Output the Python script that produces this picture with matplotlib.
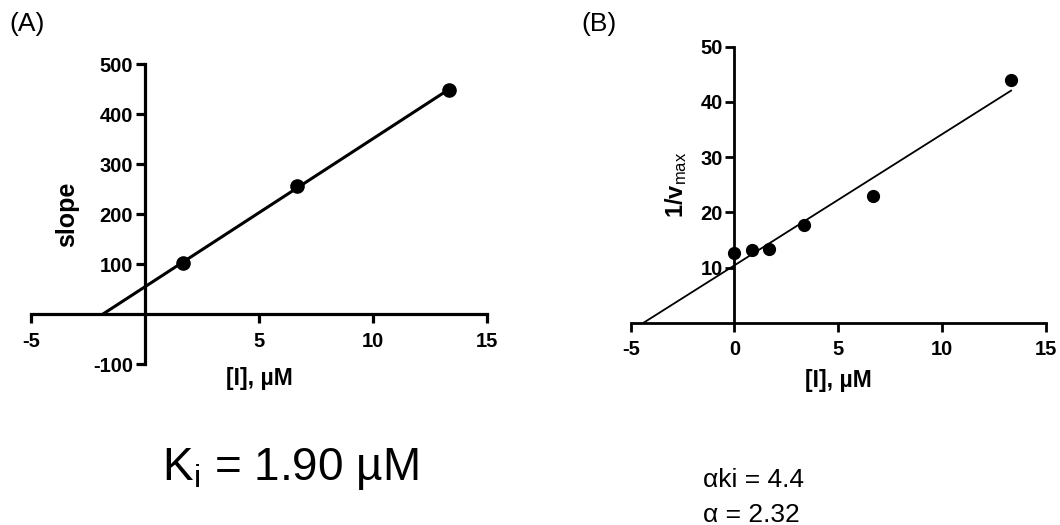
import matplotlib
matplotlib.use("Agg")
import matplotlib.pyplot as plt
import numpy as np

plt.rcParams["font.family"] = ["Liberation Sans", "DejaVu Sans"]
plt.rcParams["mathtext.fontset"] = "custom"
plt.rcParams["mathtext.rm"] = "Liberation Sans"
plt.rcParams["mathtext.it"] = "Liberation Sans:italic"
plt.rcParams["mathtext.bf"] = "Liberation Sans:bold"
plt.rcParams["axes.unicode_minus"] = False

# replot of slopes (A) and 1/vmax (B) against inhibitor concentration
inhib_a = [1.67, 6.67, 13.33]
slope_a = [102, 257, 448]

inhib_b = [0.0, 0.83, 1.67, 3.33, 6.67, 13.33]
inv_vmax_b = [12.7, 13.1, 13.3, 17.7, 23.0, 43.9]

xticks_a = [-5, 5, 10, 15]
yticks_a = [-100, 100, 200, 300, 400, 500]
xticks_b = [-5, 0, 5, 10, 15]
yticks_b = [10, 20, 30, 40, 50]

ki_text = "K$_\\mathregular{i}$ = 1.90 µM"
alpha_lines = ["αki = 4.4", "α = 2.32"]


def style_axes(ax, xlim, ylim, xticks, yticks, lw):
    ax.set_xlim(*xlim)
    ax.set_ylim(*ylim)
    for side in ("top", "right"):
        ax.spines[side].set_visible(False)
    ax.spines["left"].set_position(("data", 0))
    ax.spines["bottom"].set_position(("data", 0))
    ax.spines["left"].set_bounds(ylim[0], ylim[1])
    ax.spines["bottom"].set_bounds(xlim[0], xlim[1])
    for side in ("left", "bottom"):
        ax.spines[side].set_linewidth(lw)
    ax.set_xticks(xticks)
    ax.set_yticks(yticks)
    ax.tick_params(direction="out", length=6.5, width=lw, labelsize=14.5, pad=2)
    ax.tick_params(axis="x", pad=6)
    for lab in ax.get_xticklabels() + ax.get_yticklabels():
        lab.set_fontweight("bold")


def fit_line(x, y):
    m, b = np.polyfit(x, y, 1)
    xs = np.array([-b / m, max(x)])
    return xs, m * xs + b


fig = plt.figure(figsize=(10.6, 5.25), dpi=100)

# panel A
ax1 = fig.add_axes([0.0292, 0.3061, 0.4302, 0.5714])
style_axes(ax1, (-5, 15), (-100, 500), xticks_a, yticks_a, 2.3)
fx, fy = fit_line(inhib_a, slope_a)
ax1.plot(fx, fy, color="black", linewidth=2.2, solid_capstyle="butt")
ax1.plot(inhib_a, slope_a, "o", color="black", markersize=9.5, clip_on=False)
ax1.set_ylabel("slope", fontsize=18, fontweight="bold", labelpad=10)
ax1.set_xlabel("[I], µM", fontsize=16.5, fontweight="bold", labelpad=12)

# panel B
ax2 = fig.add_axes([0.595, 0.3853, 0.3915, 0.5257])
style_axes(ax2, (-5, 15), (0, 50), xticks_b, yticks_b, 2.0)
fx, fy = fit_line(inhib_b, inv_vmax_b)
ax2.plot(fx, fy, color="black", linewidth=1.3)
ax2.plot(inhib_b, inv_vmax_b, "o", color="black", markersize=8.5, clip_on=False)
ax2.set_ylabel("1/v$_\\mathrm{max}$", fontsize=17, fontweight="bold", labelpad=8)
ax2.set_xlabel("[I], µM", fontsize=16.5, fontweight="bold", labelpad=7)

fig.text(0.009, 0.955, "(A)", fontsize=19, va="center", ha="left")
fig.text(0.548, 0.955, "(B)", fontsize=19, va="center", ha="left")

fig.text(0.274, 0.085, ki_text, fontsize=33, ha="center", va="baseline")
fig.text(0.663, 0.073, alpha_lines[0], fontsize=19, ha="left", va="baseline")
fig.text(0.663, 0.006, alpha_lines[1], fontsize=19, ha="left", va="baseline")

fig.savefig("out.png", dpi=100)
